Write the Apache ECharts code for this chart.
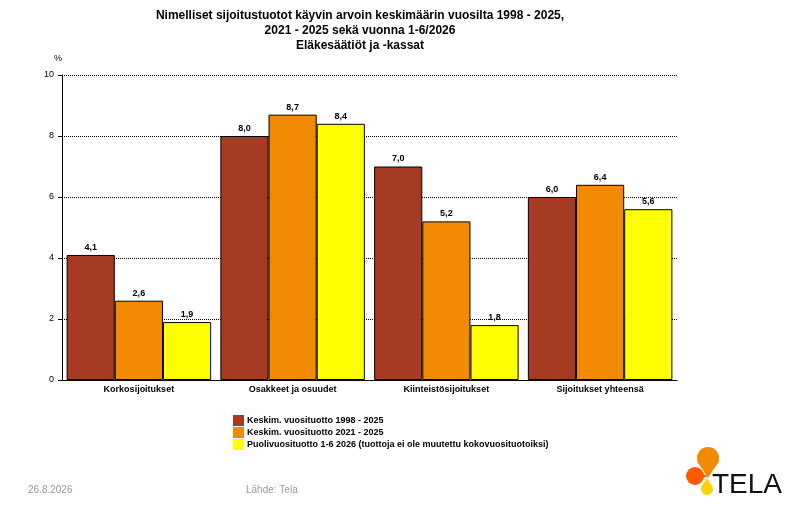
<!DOCTYPE html>
<html><head><meta charset="utf-8">
<script src="https://cdn.jsdelivr.net/npm/echarts@6/dist/echarts.min.js"></script>
<style>html,body{margin:0;background:#fff}#c{width:790px;height:507px}</style>
</head><body><div id="c"></div>
<script>
var categories=['Korkosijoitukset','Osakkeet ja osuudet','Kiinteistösijoitukset','Sijoitukset yhteensä'];
var s1=[4.1,8.0,7.0,6.0];
var s2=[2.6,8.7,5.2,6.4];
var s3=[1.9,8.4,1.8,5.6];
var names=['Keskim. vuosituotto 1998 - 2025','Keskim. vuosituotto 2021 - 2025','Puolivuosituotto 1-6 2026 (tuottoja ei ole muutettu kokovuosituotoiksi)'];
var colors=['#A63A22','#F28A00','#FFFF00'];
var F='Liberation Sans, Arial, sans-serif';
function ser(i,d){return {name:names[i],type:'bar',data:d,barGap:'0%',barCategoryGap:'6%',
 itemStyle:{color:colors[i],borderColor:'#000',borderWidth:1},
 label:{show:true,position:'top',fontFamily:F,fontSize:9,fontWeight:'bold',color:'#000',distance:3,
 formatter:function(p){return p.value.toFixed(1).replace('.',',');}}};}
var ch=echarts.init(document.getElementById('c'));
ch.setOption({animation:false,
 title:{text:'Nimelliset sijoitustuotot käyvin arvoin keskimäärin vuosilta 1998 - 2025,\n2021 - 2025 sekä vuonna 1-6/2026\nEläkesäätiöt ja -kassat',
  left:355,top:3,textAlign:'center',textStyle:{fontFamily:F,fontSize:12,fontWeight:'bold',color:'#000',lineHeight:15}},
 grid:{left:62,right:113,top:75,bottom:127},
 legend:{orient:'vertical',left:228,top:410,itemWidth:11,itemHeight:11,itemGap:1,icon:'rect',
  itemStyle:{borderWidth:0},
  textStyle:{fontFamily:F,fontSize:9,fontWeight:'bold',color:'#000',padding:[0,0,0,-2]},data:names},
 xAxis:{type:'category',data:categories,axisLine:{lineStyle:{color:'#000'}},axisTick:{show:false},
  axisLabel:{fontFamily:F,fontSize:9,fontWeight:'bold',color:'#000',margin:5}},
 yAxis:{type:'value',min:0,max:10,interval:2,name:'%',nameGap:12,nameTextStyle:{fontFamily:F,fontSize:9,color:'#000',align:'right'},
  axisLine:{show:true,lineStyle:{color:'#000'}},axisTick:{show:true,length:4,lineStyle:{color:'#000'}},
  axisLabel:{fontFamily:F,fontSize:9,color:'#000',margin:8},
  splitLine:{lineStyle:{color:'#000',type:'dotted',width:1}}},
 series:[ser(0,s1),ser(1,s2),ser(2,s3)],
 graphic:[
  {type:'text',left:28,top:485,style:{text:'26.8.2026',fontFamily:F,fontSize:10,fill:'#999'}},
  {type:'text',left:246,top:485,style:{text:'Lähde: Tela',fontFamily:F,fontSize:10,fill:'#999'}},
  {type:'circle',shape:{cx:708,cy:458,r:11},style:{fill:'#F28A00'}},
  {type:'polygon',shape:{points:[[697,461],[708,478],[719,461]]},style:{fill:'#F28A00'}},
  {type:'circle',shape:{cx:695,cy:476,r:9},style:{fill:'#FF5A00'}},
  {type:'polygon',shape:{points:[[689,469],[708,476],[689,483]]},style:{fill:'#FF5A00'}},
  {type:'circle',shape:{cx:707,cy:489,r:6},style:{fill:'#FFD200'}},
  {type:'polygon',shape:{points:[[702,486],[707,478],[712,486]]},style:{fill:'#FFD200'}},
  {type:'text',left:712,top:471,style:{text:'TELA',fontFamily:F,fontSize:28,fill:'#111'}}
 ]});
</script></body></html>
